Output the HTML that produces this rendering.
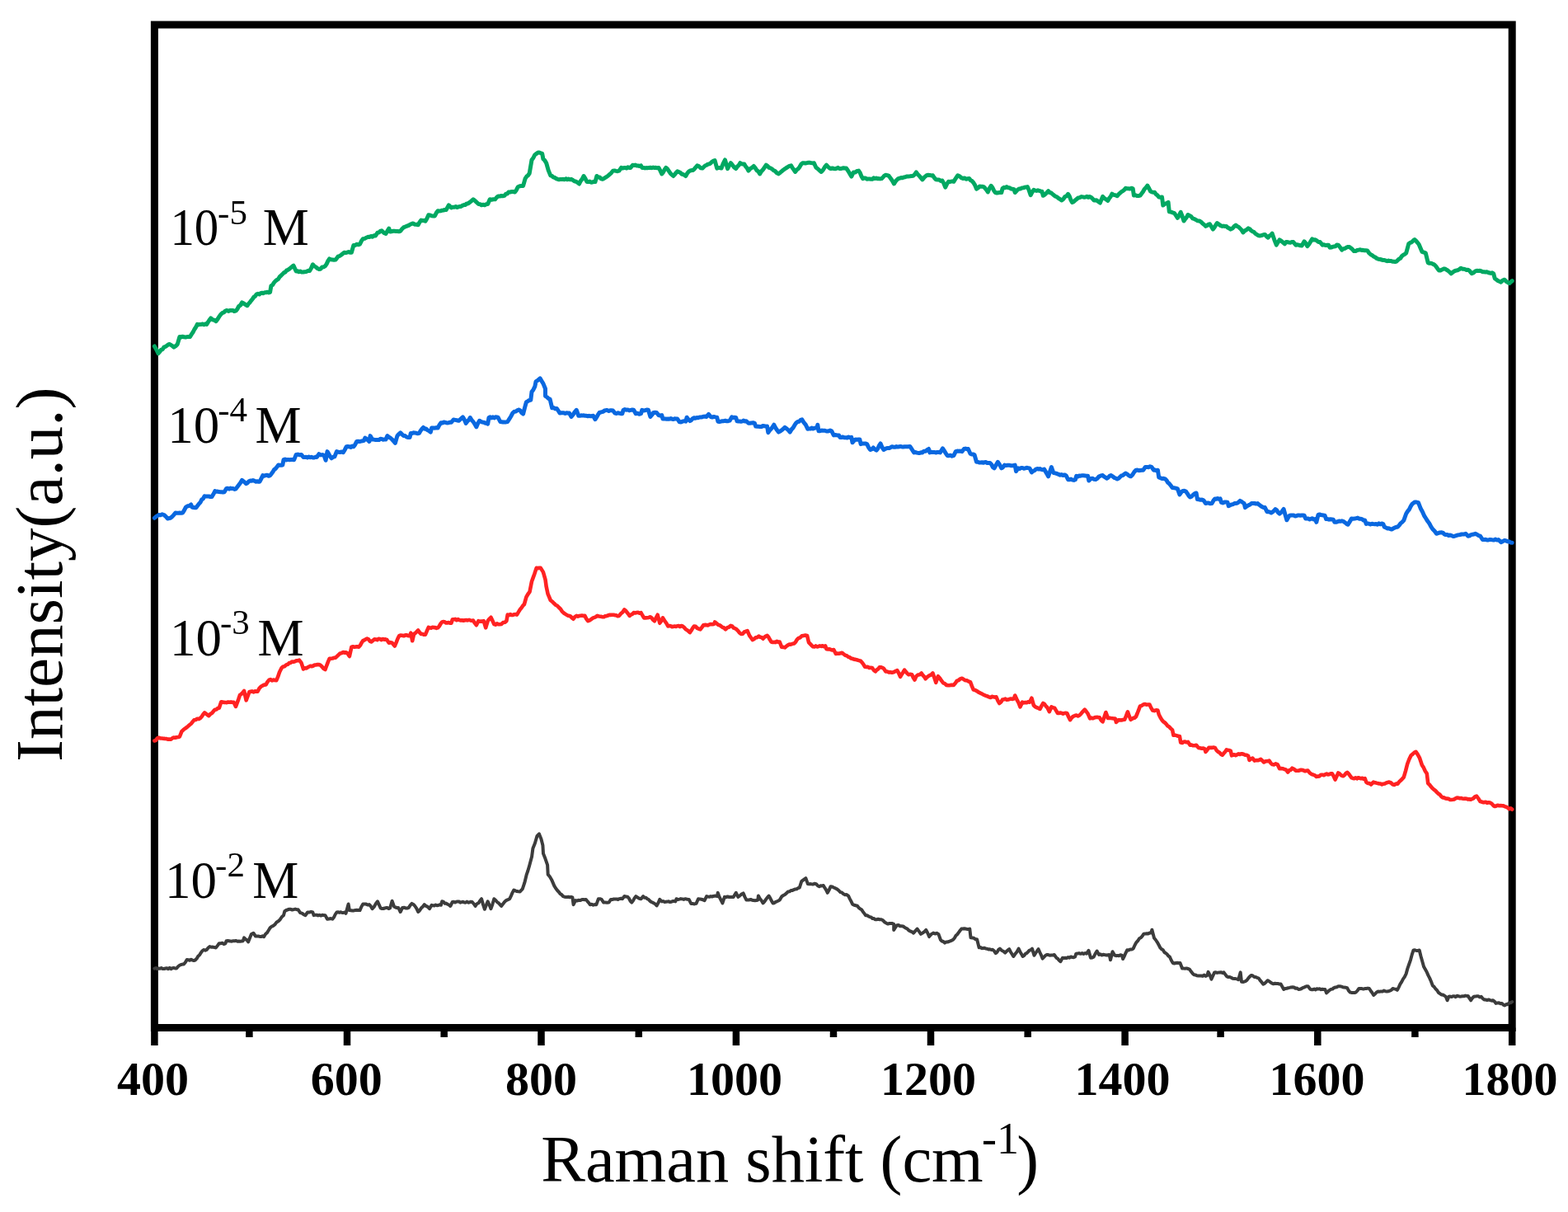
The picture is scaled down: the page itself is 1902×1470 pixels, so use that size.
<!DOCTYPE html>
<html><head><meta charset="utf-8"><title>Raman spectra</title>
<style>html,body{margin:0;padding:0;background:#fff;}body{width:1902px;height:1470px;overflow:hidden;}svg{display:block;}</style>
</head><body>
<svg width="1902" height="1470" viewBox="0 0 1902 1470">
<rect width="100%" height="100%" fill="#fff"/>
<path d="M187.4,1246.5V1268M302.4,1246.5V1258M421.0,1246.5V1268M538.7,1246.5V1258M656.5,1246.5V1268M774.8,1246.5V1258M892.9,1246.5V1268M1011.0,1246.5V1258M1129.0,1246.5V1268M1246.7,1246.5V1258M1364.6,1246.5V1268M1480.6,1246.5V1258M1598.3,1246.5V1268M1716.4,1246.5V1258M1834.2,1246.5V1268" stroke="#000" stroke-width="8.5" fill="none"/>
<rect x="187.4" y="30.0" width="1646.8" height="1216.5" fill="none" stroke="#000" stroke-width="9"/>
<g fill="none" stroke-linejoin="round" stroke-linecap="round">
<polyline points="187.4,1174.6 189.1,1174.1 190.7,1175.0 192.4,1174.6 194.1,1174.8 195.7,1174.0 197.4,1175.1 199.1,1175.0 200.8,1174.5 202.4,1174.2 204.1,1175.2 205.8,1173.9 207.4,1175.2 209.1,1174.2 210.8,1173.9 212.4,1174.5 214.1,1174.6 216.0,1172.3 217.9,1170.8 219.6,1170.0 221.2,1169.6 222.9,1169.5 224.8,1167.2 226.7,1163.9 228.4,1164.2 230.1,1164.8 231.8,1163.7 233.4,1164.6 235.1,1165.0 236.8,1164.5 238.6,1162.7 240.3,1159.7 242.1,1158.2 243.8,1155.4 245.6,1153.1 247.3,1152.0 249.0,1152.7 250.7,1151.9 252.6,1149.5 254.4,1148.1 256.3,1148.7 258.2,1148.6 260.1,1149.1 262.0,1149.4 263.9,1146.9 265.8,1144.3 267.7,1144.3 269.6,1143.7 271.5,1145.0 273.4,1144.3 274.6,1141.2 276.3,1141.1 278.0,1141.2 279.7,1141.6 281.3,1141.7 283.0,1141.2 284.7,1141.3 286.4,1140.9 288.1,1141.8 289.8,1141.6 291.4,1141.7 293.1,1141.6 294.8,1141.2 296.1,1137.4 297.8,1139.2 299.4,1140.1 301.1,1142.4 303.0,1137.8 304.9,1133.0 307.4,1131.7 310.0,1135.5 311.7,1135.6 313.4,1135.5 315.1,1135.9 316.7,1136.1 318.4,1135.3 320.1,1136.1 322.0,1133.0 323.9,1131.3 325.7,1128.5 327.6,1125.4 329.5,1123.8 331.4,1122.9 333.5,1121.2 335.6,1118.4 337.7,1117.2 339.8,1115.2 341.9,1112.0 344.0,1110.2 345.3,1105.2 347.2,1104.0 349.1,1103.3 350.9,1102.8 352.7,1102.8 354.5,1103.6 356.3,1103.1 358.1,1102.6 359.9,1103.2 361.7,1103.3 364.2,1107.1 366.3,1107.6 368.4,1109.2 370.5,1110.2 373.1,1106.5 375.2,1106.6 377.3,1105.8 379.4,1106.5 380.6,1110.2 382.3,1109.7 384.1,1109.7 385.8,1110.4 387.6,1109.8 389.3,1110.6 391.0,1109.8 392.8,1110.1 394.5,1110.2 397.0,1114.7 399.1,1114.4 401.2,1114.1 403.3,1114.7 405.0,1112.6 406.7,1109.0 408.4,1106.5 410.1,1106.2 411.8,1106.8 413.4,1106.2 415.1,1107.0 416.8,1106.9 418.5,1106.5 419.5,1107.9 422.6,1096.5 423.9,1104.1 425.7,1104.2 427.5,1104.6 429.3,1104.4 431.1,1103.9 432.9,1103.7 434.7,1104.0 436.5,1104.1 438.4,1099.7 440.3,1096.5 442.2,1096.4 444.1,1096.6 446.0,1097.5 447.9,1097.1 449.8,1099.2 451.6,1102.2 453.7,1099.9 455.9,1096.0 458.0,1093.3 459.9,1097.6 461.7,1101.5 463.3,1102.1 465.0,1102.0 466.6,1101.5 468.2,1101.1 469.8,1100.9 471.5,1102.1 473.1,1101.5 475.6,1092.7 478.1,1099.7 479.8,1100.5 481.5,1101.0 483.2,1100.9 485.7,1106.0 488.2,1100.9 490.1,1100.7 492.0,1101.4 493.9,1101.5 495.8,1100.9 497.7,1097.9 499.6,1095.9 501.5,1096.9 503.4,1099.0 505.3,1101.9 507.2,1106.0 509.1,1104.2 511.0,1101.3 512.8,1099.7 514.7,1097.1 516.8,1098.9 518.9,1099.9 521.0,1102.2 523.6,1097.8 525.2,1098.3 526.8,1098.4 528.4,1097.5 530.1,1098.3 531.7,1098.0 533.3,1097.3 534.9,1097.8 536.2,1093.3 537.9,1093.6 539.6,1095.9 541.2,1095.6 542.9,1096.7 544.6,1097.5 546.3,1099.0 548.8,1094.0 550.4,1093.8 552.0,1094.6 553.6,1093.7 555.2,1093.4 556.8,1093.4 558.4,1094.7 560.0,1094.1 561.6,1093.7 563.2,1094.6 564.8,1094.7 566.4,1093.6 568.0,1094.7 569.6,1094.3 571.2,1093.7 572.8,1094.0 574.7,1096.2 576.6,1099.0 578.5,1096.2 580.4,1095.3 582.2,1092.6 584.1,1090.2 586.0,1097.1 587.9,1102.8 589.8,1097.8 591.7,1093.3 593.6,1097.5 595.5,1102.2 597.4,1096.8 599.3,1090.2 601.1,1091.7 602.8,1093.8 604.6,1095.1 606.3,1096.9 608.1,1099.0 610.0,1096.6 611.9,1094.0 614.0,1092.1 616.1,1091.2 618.2,1090.2 619.9,1086.6 621.6,1082.6 623.3,1079.5 625.2,1080.4 627.0,1081.1 628.9,1081.3 630.8,1081.4 633.8,1078.2 636.3,1070.7 638.8,1060.6 640.4,1056.0 642.0,1050.5 645.1,1039.1 646.4,1029.0 648.9,1022.7 651.5,1013.9 654.0,1011.4 656.5,1017.7 658.4,1025.2 659.0,1035.3 661.5,1041.6 664.1,1049.2 664.7,1060.6 666.9,1063.2 669.1,1066.9 672.3,1074.4 674.2,1077.5 676.1,1080.0 678.0,1082.0 679.7,1084.3 681.3,1085.1 683.0,1087.1 684.6,1087.7 686.3,1087.9 687.9,1087.9 689.5,1087.7 691.1,1088.3 692.8,1087.8 694.4,1088.3 695.6,1097.2 698.1,1092.1 699.9,1092.6 701.7,1091.8 703.5,1092.1 705.4,1091.3 707.2,1090.9 709.0,1091.3 710.8,1090.9 712.5,1093.1 714.1,1094.9 715.8,1097.2 717.7,1096.7 719.6,1097.7 721.5,1097.1 723.4,1097.2 725.9,1090.2 727.8,1090.2 729.7,1090.9 732.2,1094.6 734.3,1094.6 736.4,1094.8 738.5,1094.6 741.0,1090.9 742.7,1091.1 744.5,1090.4 746.2,1090.6 748.0,1090.4 749.7,1091.0 751.4,1090.1 753.2,1089.7 754.9,1090.2 757.4,1087.1 759.3,1087.4 761.2,1087.7 762.9,1089.5 764.6,1092.8 766.3,1094.6 768.0,1092.4 769.6,1089.4 771.3,1087.1 773.4,1088.5 775.5,1089.7 777.6,1090.2 780.2,1087.1 781.9,1088.8 783.5,1088.7 785.2,1090.2 786.8,1091.0 788.5,1092.9 790.1,1094.0 791.7,1094.7 793.3,1095.6 795.0,1096.6 796.6,1098.4 798.5,1095.1 800.3,1090.9 802.9,1093.4 804.5,1093.1 806.2,1094.0 807.8,1093.8 809.5,1093.6 811.1,1093.3 812.7,1094.1 814.4,1093.8 816.0,1092.9 817.7,1092.9 819.3,1093.4 820.5,1090.2 822.3,1091.0 824.1,1090.6 825.8,1090.1 827.6,1090.4 829.4,1090.9 831.5,1090.2 833.6,1090.8 835.7,1090.9 838.2,1095.9 840.3,1096.1 842.4,1096.4 844.5,1095.9 847.0,1090.2 848.9,1090.4 850.8,1090.8 852.7,1091.3 854.6,1092.1 857.1,1087.1 858.7,1087.5 860.4,1087.8 862.0,1087.1 863.6,1087.5 865.2,1087.0 866.9,1086.6 868.5,1086.7 870.1,1087.2 870.7,1082.8 872.6,1087.9 874.5,1091.7 876.4,1095.4 878.9,1087.9 880.7,1088.3 882.5,1087.4 884.3,1088.0 886.1,1087.9 887.9,1087.9 889.7,1087.9 892.8,1082.8 895.3,1087.9 897.4,1086.3 899.5,1084.6 901.6,1083.4 903.5,1087.9 905.4,1091.6 907.1,1091.6 908.9,1091.4 910.6,1090.9 912.3,1091.7 914.1,1092.1 915.8,1092.3 917.6,1092.1 919.3,1091.6 919.9,1086.6 921.8,1089.9 923.7,1092.2 925.6,1095.4 927.4,1093.4 929.1,1090.8 930.9,1088.6 932.6,1086.6 934.3,1089.4 935.9,1092.6 937.6,1095.4 939.2,1095.2 940.9,1093.9 942.5,1093.3 944.2,1092.5 945.8,1091.6 948.3,1087.2 950.2,1086.0 952.1,1085.0 954.0,1083.4 955.9,1081.5 957.7,1081.3 959.4,1080.0 961.2,1079.9 962.9,1079.1 964.7,1078.4 966.4,1078.2 968.1,1077.1 969.8,1076.5 972.3,1068.9 974.0,1067.6 975.7,1066.3 977.4,1065.1 979.9,1072.1 981.6,1072.3 983.3,1072.1 985.0,1072.4 986.6,1072.4 988.3,1071.7 990.0,1072.1 991.9,1074.2 993.8,1075.2 995.5,1074.2 997.1,1074.4 998.8,1074.0 1000.5,1076.9 1002.1,1079.4 1003.8,1082.8 1005.7,1079.3 1007.6,1075.2 1009.5,1075.5 1011.4,1076.5 1013.5,1077.4 1015.6,1078.6 1017.7,1080.3 1019.4,1082.1 1021.1,1082.4 1022.8,1084.1 1024.9,1085.2 1027.0,1085.1 1029.1,1086.6 1030.8,1090.1 1032.4,1093.2 1034.1,1096.7 1036.1,1097.8 1038.0,1098.3 1040.0,1098.8 1041.7,1100.9 1043.3,1102.3 1045.0,1103.2 1046.7,1105.7 1048.4,1107.9 1050.1,1110.2 1051.8,1110.3 1053.4,1111.3 1055.1,1112.1 1056.7,1112.5 1058.3,1114.0 1059.9,1113.9 1061.5,1115.2 1063.4,1115.2 1065.2,1114.8 1067.1,1115.3 1069.0,1115.2 1071.1,1116.3 1073.2,1118.5 1075.3,1119.7 1077.1,1120.6 1078.9,1120.0 1080.6,1119.9 1082.4,1120.1 1084.2,1120.9 1084.2,1127.9 1086.1,1125.0 1088.0,1122.2 1089.9,1122.0 1091.8,1123.2 1093.6,1123.2 1095.5,1123.4 1097.2,1124.8 1098.9,1125.7 1100.6,1126.6 1102.5,1128.5 1104.3,1129.5 1106.2,1130.1 1108.1,1131.6 1110.3,1129.2 1112.6,1126.6 1114.8,1129.6 1117.0,1132.9 1119.1,1131.6 1121.2,1130.1 1123.3,1127.9 1125.2,1131.5 1127.1,1136.1 1128.8,1134.0 1130.4,1132.6 1132.1,1131.6 1134.2,1132.5 1136.3,1131.8 1138.4,1132.9 1140.9,1139.8 1142.6,1141.5 1144.3,1142.0 1146.0,1143.6 1147.7,1142.4 1149.4,1142.5 1151.0,1142.0 1152.7,1141.3 1154.4,1140.6 1156.1,1139.8 1157.8,1137.8 1159.5,1134.8 1161.2,1133.3 1162.8,1131.1 1164.5,1128.8 1166.2,1126.6 1167.9,1126.4 1169.6,1126.2 1171.2,1126.5 1172.9,1126.9 1174.6,1126.9 1176.3,1126.6 1177.5,1137.3 1179.4,1137.4 1181.3,1137.8 1183.2,1139.2 1185.1,1139.2 1187.6,1149.3 1189.2,1148.9 1190.9,1150.2 1192.5,1149.9 1194.2,1149.7 1195.8,1150.5 1197.4,1150.7 1199.1,1151.6 1200.7,1151.3 1202.4,1152.0 1204.0,1151.8 1205.9,1153.3 1207.8,1156.2 1209.5,1154.7 1211.2,1151.9 1212.9,1150.6 1215.0,1152.7 1217.1,1153.7 1219.2,1155.6 1220.9,1153.8 1222.5,1152.4 1224.2,1151.2 1225.9,1154.5 1227.6,1157.2 1229.3,1160.0 1231.4,1157.1 1233.5,1154.4 1235.6,1150.6 1237.3,1154.2 1238.9,1156.9 1240.6,1160.0 1242.2,1159.1 1243.9,1156.8 1245.5,1156.0 1247.1,1154.4 1248.7,1152.6 1250.4,1152.2 1252.0,1150.6 1254.5,1158.8 1256.2,1156.0 1257.9,1153.5 1259.6,1151.2 1261.3,1155.0 1262.9,1158.3 1264.6,1162.6 1266.3,1160.9 1268.0,1159.0 1269.7,1158.1 1271.5,1158.1 1273.3,1158.7 1275.2,1158.5 1277.0,1158.6 1278.8,1158.0 1281.4,1161.7 1283.1,1162.7 1284.7,1164.8 1286.4,1166.2 1288.9,1161.7 1290.6,1162.0 1292.3,1161.8 1294.0,1161.9 1295.7,1161.0 1297.3,1161.7 1299.0,1160.4 1300.7,1161.0 1302.4,1161.2 1304.1,1160.5 1305.3,1156.7 1307.1,1156.6 1308.9,1156.1 1310.7,1156.8 1312.6,1156.1 1314.4,1156.9 1316.2,1156.1 1318.0,1156.7 1320.5,1152.9 1323.0,1161.7 1324.9,1161.6 1326.8,1160.5 1328.7,1156.5 1330.6,1153.5 1333.1,1158.0 1334.9,1157.3 1336.7,1158.5 1338.5,1157.7 1340.3,1158.1 1342.1,1158.5 1343.9,1158.2 1345.7,1158.0 1347.0,1164.3 1349.5,1154.2 1352.0,1158.6 1353.8,1159.2 1355.6,1158.9 1357.3,1159.3 1359.1,1158.2 1360.9,1158.6 1362.1,1163.0 1363.8,1159.8 1365.5,1155.8 1367.2,1152.3 1369.1,1152.4 1371.0,1151.5 1372.8,1151.4 1374.7,1150.4 1376.6,1146.2 1378.5,1142.8 1380.3,1141.0 1382.1,1138.2 1383.8,1137.3 1385.6,1135.4 1387.4,1132.7 1389.2,1132.6 1390.9,1132.3 1392.7,1132.4 1394.4,1131.6 1396.2,1131.5 1397.4,1127.7 1400.0,1137.8 1401.9,1140.0 1403.8,1142.8 1405.7,1146.3 1407.5,1149.7 1409.1,1151.3 1410.8,1152.3 1412.4,1155.0 1414.0,1156.0 1415.6,1157.3 1417.3,1159.5 1418.9,1160.5 1420.8,1164.8 1422.7,1168.0 1424.5,1168.5 1426.2,1168.0 1428.0,1167.8 1429.7,1168.0 1431.5,1168.0 1434.0,1174.4 1435.8,1174.6 1437.6,1174.7 1439.3,1174.4 1441.1,1175.0 1442.9,1175.6 1444.8,1178.3 1446.7,1180.7 1448.4,1182.2 1450.0,1182.4 1451.7,1183.2 1453.5,1183.5 1455.3,1183.6 1457.1,1183.5 1458.9,1183.9 1460.7,1182.6 1462.5,1183.9 1464.3,1183.2 1465.6,1178.8 1467.5,1182.5 1469.4,1187.6 1471.3,1183.5 1473.2,1179.4 1474.8,1179.3 1476.4,1179.9 1478.0,1179.6 1479.7,1179.5 1481.3,1179.2 1482.9,1180.1 1484.5,1179.4 1486.4,1182.0 1488.3,1184.4 1490.0,1185.1 1491.8,1185.0 1493.5,1185.8 1495.2,1186.8 1497.0,1187.0 1498.7,1187.1 1500.5,1187.4 1502.2,1188.2 1504.7,1179.4 1506.0,1190.8 1508.3,1191.0 1510.7,1190.1 1512.5,1188.8 1514.3,1186.3 1516.1,1184.3 1517.9,1182.9 1519.7,1183.5 1521.5,1185.0 1523.2,1185.0 1525.0,1185.8 1526.8,1186.5 1528.6,1189.2 1530.4,1191.2 1532.2,1193.6 1534.0,1192.8 1535.7,1191.3 1537.5,1189.2 1539.3,1190.0 1541.1,1191.4 1542.9,1192.7 1544.7,1193.3 1546.5,1192.7 1548.2,1193.0 1550.0,1192.9 1551.8,1193.6 1553.6,1193.6 1555.4,1196.8 1557.2,1199.9 1559.0,1199.0 1560.8,1198.7 1562.6,1198.2 1564.3,1197.9 1566.1,1197.4 1567.9,1197.2 1569.7,1197.4 1571.5,1198.8 1573.3,1198.6 1575.1,1199.9 1576.8,1199.7 1578.4,1199.3 1580.1,1198.1 1581.7,1197.6 1583.4,1196.8 1585.0,1196.2 1586.7,1196.3 1589.4,1199.9 1591.0,1200.2 1592.7,1200.2 1594.3,1199.5 1595.9,1200.4 1597.5,1199.2 1599.2,1199.6 1600.8,1199.3 1602.4,1200.2 1604.0,1199.7 1605.7,1199.9 1607.3,1199.9 1609.0,1204.4 1610.8,1202.7 1612.6,1201.1 1614.4,1199.9 1616.2,1199.6 1618.0,1198.1 1619.8,1197.5 1621.5,1197.2 1623.3,1196.2 1625.1,1196.3 1626.9,1196.5 1628.7,1197.2 1630.5,1197.6 1632.3,1197.8 1634.1,1198.1 1635.8,1201.4 1637.6,1203.5 1639.4,1203.9 1641.2,1204.0 1643.0,1204.0 1644.8,1203.5 1646.6,1201.5 1648.4,1199.0 1650.2,1199.0 1652.0,1199.1 1653.8,1199.6 1655.5,1199.1 1657.3,1199.0 1659.1,1198.6 1660.9,1199.0 1662.7,1201.7 1664.4,1204.0 1666.2,1207.0 1668.0,1205.5 1669.8,1203.5 1671.6,1202.6 1673.4,1202.7 1675.2,1202.4 1677.0,1202.6 1678.8,1201.5 1680.5,1202.3 1682.3,1202.5 1684.1,1202.3 1685.9,1201.7 1687.7,1200.8 1689.5,1199.0 1691.3,1199.4 1693.1,1199.7 1694.9,1200.8 1696.7,1197.3 1698.4,1193.7 1700.2,1190.9 1702.0,1187.3 1703.8,1184.8 1705.6,1181.1 1707.4,1174.6 1709.2,1169.5 1711.0,1164.3 1712.7,1157.9 1714.5,1152.5 1716.3,1152.3 1718.1,1153.0 1719.9,1152.9 1721.7,1152.5 1723.5,1159.7 1725.2,1165.8 1727.0,1172.2 1728.8,1175.6 1730.6,1178.7 1732.4,1182.9 1734.2,1186.4 1736.0,1190.5 1737.8,1195.4 1739.6,1196.8 1741.4,1199.3 1743.1,1201.0 1744.9,1203.8 1746.7,1205.2 1748.5,1206.5 1750.2,1206.6 1752.0,1207.5 1753.8,1208.8 1755.6,1213.3 1757.4,1208.8 1759.1,1208.5 1760.7,1209.1 1762.4,1208.3 1764.1,1208.3 1765.7,1209.2 1767.4,1207.8 1769.1,1208.2 1770.7,1208.7 1772.4,1208.5 1774.0,1208.2 1775.7,1208.3 1777.4,1207.6 1779.0,1207.9 1780.7,1207.9 1782.5,1210.9 1784.2,1213.3 1786.0,1210.4 1787.8,1208.8 1789.6,1208.6 1791.4,1208.3 1793.1,1208.2 1794.9,1209.5 1796.7,1208.8 1798.5,1211.0 1800.3,1212.4 1802.1,1212.5 1803.9,1213.1 1805.7,1212.4 1807.5,1213.1 1809.3,1213.7 1811.1,1213.3 1812.8,1214.6 1814.6,1216.9 1816.4,1216.4 1818.2,1216.3 1820.0,1217.3 1821.8,1216.9 1823.5,1218.6 1825.3,1219.5 1827.1,1218.1 1828.9,1218.2 1830.6,1216.2 1832.4,1216.2 1834.2,1215.1" stroke="#3c3c3c" stroke-width="4.0"/>
<polyline points="187.4,898.5 189.1,897.9 190.9,895.3 192.6,894.7 194.4,895.4 196.2,895.5 198.0,895.7 199.8,895.9 201.6,896.0 203.4,896.6 205.2,896.6 207.0,896.8 208.8,895.6 210.6,894.6 212.5,894.8 214.3,894.2 216.1,894.0 217.9,893.5 220.4,887.2 222.3,885.3 224.2,883.8 226.1,882.5 228.0,880.9 229.9,879.2 231.8,877.7 233.6,875.5 235.5,873.3 237.4,873.0 239.3,871.8 241.2,872.1 243.1,870.8 244.8,869.0 246.4,866.5 248.1,864.4 249.8,865.7 251.5,866.9 253.2,868.2 255.1,866.1 257.0,865.0 258.9,862.7 260.8,860.7 262.5,860.4 264.1,859.0 265.8,858.8 268.3,851.2 270.0,851.5 271.7,851.9 273.4,852.0 275.1,852.1 276.7,851.5 278.4,851.8 280.1,851.4 281.8,851.7 283.5,851.8 286.0,856.9 287.7,852.4 289.3,848.1 291.0,843.0 292.7,841.9 294.4,840.0 296.1,838.0 298.6,849.3 300.5,844.5 302.4,839.2 304.1,838.7 305.8,838.4 307.4,839.4 309.1,838.4 310.8,838.6 312.5,838.6 314.4,835.1 316.3,832.9 318.4,831.6 320.5,830.6 322.6,830.4 324.5,826.9 326.4,824.7 328.2,824.1 329.9,825.4 331.7,824.6 333.4,825.0 335.2,825.3 337.1,820.9 339.0,815.2 341.5,810.2 343.4,808.5 345.3,808.2 347.2,806.4 349.1,805.8 350.8,804.1 352.4,804.0 354.1,802.6 355.9,802.8 357.7,802.3 359.4,801.4 361.2,801.3 363.0,800.7 365.5,803.9 368.0,811.5 369.8,810.2 371.5,810.5 373.3,809.3 375.0,808.5 376.8,807.7 378.4,808.2 380.1,807.5 381.7,806.5 383.3,806.5 384.9,806.1 386.6,806.0 388.2,806.4 390.3,808.3 392.4,810.8 394.5,812.1 396.2,807.3 397.9,802.9 399.6,798.8 401.5,798.7 403.4,798.5 405.2,797.8 407.1,797.6 410.0,794.8 412.1,792.8 414.2,792.1 416.3,791.0 418.0,791.7 419.7,791.3 421.4,792.3 423.9,796.1 426.4,784.7 428.2,784.3 429.9,784.7 431.7,784.4 433.4,784.3 435.2,784.7 436.9,782.8 438.6,779.6 440.3,777.2 442.0,776.4 443.6,775.4 445.3,774.6 447.0,775.4 448.7,777.6 450.4,778.4 452.3,776.9 454.2,775.3 455.9,775.5 457.6,776.1 459.2,774.8 460.9,775.0 462.6,776.1 464.3,775.0 465.9,775.6 467.6,775.4 469.3,775.9 471.8,779.7 473.7,779.1 475.6,779.7 478.8,783.5 480.7,779.1 482.5,774.5 484.4,770.9 486.2,770.5 488.0,770.7 489.8,771.3 491.7,770.4 493.5,770.3 495.3,771.1 497.1,770.9 498.3,767.7 500.2,777.2 502.1,769.0 503.8,767.8 505.5,766.2 507.2,764.5 509.0,767.1 510.9,769.0 512.6,769.0 514.3,769.8 516.0,769.6 517.9,765.2 519.8,760.8 521.4,761.5 523.0,761.6 524.6,760.8 526.3,761.1 527.9,761.1 529.5,761.9 531.1,761.4 532.8,759.5 534.5,756.5 536.2,754.4 537.8,754.1 539.4,754.2 541.0,755.5 542.7,755.4 544.3,755.0 545.9,755.8 547.5,755.7 548.8,751.3 550.5,751.3 552.2,750.9 553.8,752.2 555.5,751.1 557.2,752.0 558.9,752.4 560.6,752.2 562.2,752.7 563.9,752.2 565.6,752.1 567.3,752.4 569.0,751.9 570.6,752.4 572.3,752.8 574.0,752.6 575.9,755.7 577.8,758.2 580.3,753.2 581.9,753.8 583.5,753.5 585.1,753.6 586.7,753.2 589.2,761.4 591.7,753.2 593.6,750.6 595.5,748.8 597.4,752.8 599.3,757.0 601.1,757.7 602.8,756.3 604.6,757.3 606.3,757.2 608.1,757.0 610.2,755.1 612.3,754.8 614.4,753.2 615.7,745.6 617.3,746.2 618.9,745.0 620.5,746.0 622.2,745.9 623.8,745.2 625.4,745.1 627.0,745.6 628.9,742.4 630.8,739.3 632.5,737.3 634.2,734.7 635.9,733.0 638.4,724.2 640.5,720.5 642.5,717.9 645.0,705.3 646.6,700.9 648.2,696.5 650.7,688.9 652.4,689.1 654.1,688.9 655.8,688.9 658.9,693.9 661.5,702.8 662.7,711.6 664.6,720.4 667.8,728.0 669.9,729.7 672.0,731.8 674.1,733.7 676.0,734.7 677.9,736.8 680.0,738.7 682.1,741.9 684.2,743.8 686.3,745.1 688.4,746.4 690.5,746.9 692.2,747.7 693.8,749.4 695.5,750.7 697.4,748.1 699.3,746.9 701.0,747.6 702.7,747.0 704.3,746.8 706.0,746.6 707.7,746.9 709.4,746.9 711.3,750.6 713.2,753.2 715.3,752.4 717.4,750.9 719.5,749.4 721.2,748.8 722.8,748.2 724.5,746.9 726.6,747.5 728.8,747.8 730.9,748.2 732.5,748.3 734.1,747.2 735.7,747.1 737.4,746.5 739.0,745.9 740.6,745.9 742.2,745.7 744.0,745.7 745.7,746.1 747.5,746.3 749.2,747.2 751.0,746.9 753.1,744.3 755.3,742.5 757.4,739.4 759.5,741.3 761.6,744.0 763.7,746.9 765.4,745.5 767.0,744.8 768.7,743.1 770.5,743.5 772.2,743.0 774.0,742.9 775.7,743.7 777.5,743.1 779.4,746.5 781.3,749.4 783.2,749.4 785.1,749.3 787.0,748.9 788.9,748.2 790.6,749.6 792.2,751.8 793.9,753.2 795.8,749.3 797.7,745.7 800.3,755.8 802.1,753.2 804.0,749.4 806.1,752.7 808.2,755.7 810.3,759.5 811.9,759.0 813.5,759.3 815.1,760.1 816.7,759.9 818.3,759.6 820.0,760.0 821.6,759.2 823.2,759.0 824.8,760.1 826.4,759.0 828.0,759.5 829.9,761.1 831.8,763.3 833.5,764.2 835.1,765.5 836.8,767.1 838.5,764.7 840.2,761.9 841.9,759.5 843.8,759.8 845.7,761.9 847.6,762.7 849.5,763.3 851.4,760.8 853.2,758.3 855.0,757.9 856.8,758.1 858.6,758.4 860.5,757.5 862.3,757.1 864.1,757.3 865.9,757.0 867.1,754.5 869.0,755.8 870.9,757.7 872.8,758.2 874.7,759.5 876.5,760.8 878.3,761.5 880.1,763.3 882.2,761.3 884.3,760.6 886.4,758.9 888.1,759.4 889.8,761.5 891.5,762.1 893.4,763.3 895.2,765.1 897.1,767.5 899.0,769.0 900.9,768.7 902.8,766.5 904.7,765.8 906.6,765.2 909.1,770.9 911.0,773.5 912.9,776.0 914.8,774.9 916.7,773.3 918.6,773.1 920.5,771.5 922.2,772.8 923.8,773.1 925.5,774.7 927.2,772.9 928.9,771.6 930.6,770.9 932.3,772.8 933.9,775.8 935.6,778.5 937.3,779.0 939.0,778.8 940.7,779.1 942.3,777.9 944.0,778.7 945.7,778.5 948.2,784.8 950.1,784.9 952.0,785.4 953.7,784.0 955.4,782.7 957.1,781.6 959.2,781.6 961.3,780.8 963.4,780.4 965.1,778.7 966.7,775.8 968.4,774.1 970.5,773.3 972.6,771.3 974.7,770.9 976.9,770.5 979.1,770.9 981.0,779.1 982.7,780.9 984.4,782.7 986.1,784.2 987.8,784.4 989.5,783.4 991.1,784.4 992.8,784.0 994.5,783.4 996.2,783.9 997.8,783.2 999.5,784.2 1001.2,783.5 1002.5,787.3 1004.3,787.4 1006.0,787.2 1007.8,788.0 1009.5,788.4 1011.3,788.0 1013.9,793.0 1015.8,792.6 1017.6,792.7 1019.5,792.2 1021.4,791.7 1023.3,793.3 1025.2,794.8 1027.1,795.3 1029.0,796.8 1030.8,797.3 1032.5,798.6 1034.3,799.0 1036.0,799.7 1037.8,799.9 1039.9,800.5 1042.0,801.1 1044.1,801.8 1045.8,803.7 1047.5,806.0 1049.2,808.8 1051.0,809.1 1052.7,808.8 1054.5,810.0 1056.2,809.9 1058.0,810.0 1059.9,812.7 1061.8,814.4 1063.5,812.5 1065.1,811.5 1066.8,809.4 1068.5,809.2 1070.2,809.8 1071.9,810.7 1074.4,814.4 1076.3,814.5 1078.2,815.4 1080.1,815.3 1082.0,815.7 1084.1,815.3 1086.2,814.1 1088.3,813.2 1090.2,816.5 1092.1,820.8 1093.8,817.9 1095.4,815.5 1097.1,812.6 1098.8,814.7 1100.5,816.8 1102.2,818.2 1104.2,817.8 1106.3,818.3 1107.9,822.1 1109.5,824.6 1111.4,820.2 1113.5,818.5 1115.6,818.2 1117.7,816.4 1119.4,819.0 1121.0,820.6 1122.7,823.3 1124.5,821.3 1126.2,820.0 1128.0,819.0 1129.7,818.4 1131.5,816.4 1133.4,822.1 1135.3,827.8 1137.9,820.2 1140.0,822.5 1142.1,825.7 1144.2,828.4 1146.1,829.1 1147.9,830.9 1149.7,831.1 1151.5,831.2 1153.2,830.9 1155.0,830.9 1156.8,830.9 1158.7,828.8 1160.6,825.9 1162.7,825.1 1164.8,823.4 1166.9,822.7 1168.8,823.9 1170.7,825.2 1172.8,825.3 1174.9,826.5 1177.0,827.1 1178.9,832.1 1180.8,836.6 1182.9,837.1 1185.0,838.1 1187.1,839.7 1189.2,840.7 1191.3,841.6 1193.4,842.9 1195.5,843.7 1197.6,844.4 1199.7,845.4 1201.5,846.0 1203.2,844.8 1205.0,845.2 1206.7,845.6 1208.5,845.4 1210.4,849.8 1212.3,853.0 1214.2,851.5 1216.1,848.6 1217.8,848.2 1219.6,847.6 1221.3,848.8 1223.0,848.5 1224.8,847.8 1226.5,847.5 1228.3,847.9 1230.0,847.3 1231.2,843.5 1233.8,849.2 1235.7,852.7 1237.5,857.4 1240.1,851.7 1241.9,852.4 1243.6,851.9 1245.4,852.3 1247.1,851.3 1248.9,851.7 1251.4,846.7 1253.9,855.5 1255.8,857.2 1257.7,858.3 1259.6,858.9 1261.5,859.9 1263.4,856.1 1265.3,853.0 1267.0,854.0 1268.6,856.3 1270.3,858.0 1272.9,863.1 1275.4,857.4 1277.3,858.3 1279.2,858.7 1281.1,861.9 1283.0,865.0 1284.6,864.9 1286.2,864.5 1287.8,864.9 1289.5,865.7 1291.1,865.0 1292.7,864.9 1294.3,865.0 1296.2,869.5 1298.1,873.2 1300.0,870.5 1301.9,868.8 1303.8,868.0 1305.7,867.5 1307.6,868.5 1309.5,867.5 1311.6,865.3 1313.7,862.8 1315.8,860.6 1317.7,863.0 1319.6,865.6 1322.1,871.3 1323.8,870.6 1325.5,871.3 1327.3,870.5 1329.0,870.0 1331.4,869.9 1333.8,870.3 1335.7,873.5 1337.6,875.3 1339.5,869.7 1341.4,864.0 1343.9,870.9 1345.7,870.7 1347.4,871.0 1349.2,871.2 1350.9,871.5 1352.7,871.5 1354.0,876.0 1356.5,873.4 1358.4,873.2 1360.3,873.5 1362.2,873.0 1364.1,872.8 1366.0,868.4 1367.9,863.3 1369.8,868.7 1371.6,872.8 1373.2,872.0 1374.8,870.8 1376.4,870.6 1378.0,869.0 1379.7,865.0 1381.3,860.9 1383.0,856.4 1384.9,855.9 1386.8,854.5 1388.7,854.0 1390.6,854.7 1392.5,854.5 1394.4,854.5 1396.2,858.4 1398.1,861.5 1400.2,862.1 1402.3,861.4 1404.4,861.5 1405.7,866.5 1407.6,870.3 1409.5,873.4 1411.3,875.3 1413.0,876.5 1414.8,878.3 1416.5,880.6 1418.3,881.6 1420.2,883.6 1422.1,885.4 1423.4,891.7 1425.3,891.6 1427.2,892.1 1429.0,892.8 1430.9,893.0 1432.2,900.6 1434.0,901.0 1435.7,899.8 1437.5,899.5 1439.2,900.3 1441.0,899.9 1443.6,903.7 1445.5,903.5 1447.3,904.3 1449.2,904.2 1451.1,903.7 1453.7,906.9 1455.6,907.3 1457.5,907.7 1459.3,907.5 1461.2,908.1 1462.5,911.9 1464.4,909.5 1466.3,906.9 1468.2,906.9 1470.0,906.9 1471.9,906.5 1473.8,906.9 1475.7,910.1 1477.6,911.9 1479.3,912.8 1481.0,914.7 1482.7,915.7 1484.4,913.7 1486.0,912.0 1487.7,909.4 1489.4,909.8 1491.1,910.1 1492.8,910.7 1494.0,916.3 1495.6,915.8 1497.3,915.3 1498.9,916.1 1500.5,915.4 1502.1,914.4 1503.8,915.0 1505.4,914.4 1507.2,914.3 1508.9,915.0 1510.7,915.8 1512.4,915.8 1514.2,917.0 1515.5,922.0 1517.4,920.5 1519.3,919.5 1521.8,922.6 1523.7,922.1 1525.6,922.3 1527.5,921.7 1529.4,920.8 1531.3,922.6 1533.2,924.5 1535.3,923.3 1537.4,923.2 1539.5,922.6 1541.3,925.3 1543.2,927.1 1545.3,927.5 1547.5,926.4 1549.6,927.1 1552.1,932.1 1554.0,932.0 1555.9,932.2 1557.8,933.0 1559.7,933.4 1562.2,936.5 1563.9,934.3 1565.7,933.7 1567.4,931.7 1569.6,932.8 1571.8,934.6 1573.4,934.8 1575.1,934.8 1576.7,934.1 1578.3,933.9 1580.0,934.0 1581.6,934.6 1583.2,935.3 1584.9,934.8 1586.5,934.6 1588.7,937.4 1590.9,939.0 1592.9,939.6 1594.8,940.3 1596.8,942.0 1598.7,941.6 1600.5,941.4 1602.3,939.8 1604.2,939.7 1605.9,940.2 1607.5,939.3 1609.2,938.5 1610.9,939.5 1612.6,939.1 1614.2,938.3 1615.9,938.3 1617.8,941.5 1619.6,945.6 1621.4,941.6 1623.3,937.5 1625.3,938.8 1627.2,940.6 1629.2,941.2 1630.9,940.1 1632.6,938.0 1634.3,936.8 1636.0,938.6 1637.8,941.1 1639.5,943.4 1641.1,943.9 1642.7,944.2 1644.4,943.4 1646.0,944.4 1647.6,943.2 1649.2,943.7 1650.8,944.3 1652.5,943.7 1654.1,944.7 1655.7,944.2 1657.2,948.6 1659.1,950.0 1661.1,950.1 1663.0,951.5 1666.0,948.6 1667.7,949.3 1669.4,949.6 1671.2,950.1 1672.9,950.5 1674.6,950.5 1676.3,951.5 1678.1,950.7 1679.8,950.4 1681.6,949.4 1683.3,949.0 1685.1,948.6 1687.3,949.5 1689.5,951.5 1691.5,951.9 1693.4,950.6 1695.4,950.8 1697.2,948.2 1699.1,946.6 1701.0,944.6 1702.8,942.7 1705.0,935.1 1707.2,926.5 1709.4,920.7 1711.6,916.2 1713.6,914.6 1715.5,912.8 1717.5,911.8 1719.7,915.1 1721.9,919.1 1724.9,928.0 1726.9,931.1 1728.8,935.3 1730.8,938.3 1732.2,950.1 1734.0,951.7 1735.8,954.1 1737.5,956.1 1739.3,957.6 1741.1,958.9 1742.9,960.8 1744.8,962.7 1746.6,963.8 1748.4,966.2 1750.1,967.4 1751.8,967.4 1753.6,968.5 1755.3,968.6 1757.0,968.8 1758.7,969.9 1760.4,970.0 1762.2,969.8 1763.9,969.5 1765.6,968.4 1767.4,967.6 1769.1,967.7 1770.7,968.3 1772.3,968.0 1773.9,968.4 1775.5,968.7 1777.2,968.5 1778.8,968.7 1780.4,969.4 1782.0,969.3 1783.6,969.7 1785.2,969.2 1787.2,968.4 1789.1,966.4 1791.1,965.5 1793.3,968.5 1795.5,972.1 1797.2,972.5 1798.9,973.1 1800.6,973.1 1802.2,972.7 1803.9,973.8 1805.6,973.3 1807.3,973.6 1809.5,974.8 1811.7,977.3 1813.4,978.0 1815.1,977.5 1816.8,976.7 1818.6,977.2 1820.3,977.1 1822.0,977.3 1823.7,977.4 1825.5,978.3 1827.2,978.7 1829.0,979.7 1830.7,981.1 1832.5,980.4 1834.2,981.7" stroke="#ff2222" stroke-width="4.6"/>
<polyline points="187.4,628.3 189.1,626.7 190.9,625.6 192.6,624.5 194.7,624.7 196.8,623.8 198.9,624.5 201.1,626.4 203.3,629.0 206.5,628.3 208.6,626.9 210.7,624.6 212.8,622.0 214.6,622.2 216.3,622.2 218.1,622.0 219.8,622.2 221.6,622.0 223.5,618.9 225.4,615.1 227.5,613.8 229.6,613.5 231.7,611.9 233.0,615.1 234.7,615.6 236.3,615.8 238.0,615.7 239.7,613.2 241.4,611.0 243.1,609.3 244.7,605.9 246.4,604.8 248.1,601.8 249.9,602.1 251.7,602.1 253.4,602.0 255.2,602.5 257.0,602.5 258.9,599.3 260.8,595.5 262.4,596.2 264.0,596.1 265.6,596.6 267.3,596.8 268.9,596.7 270.5,597.1 272.1,596.8 274.6,592.4 276.2,592.2 277.9,593.1 279.5,592.1 281.1,592.6 282.7,592.5 284.4,593.4 286.0,593.0 287.9,590.5 289.8,588.0 291.7,585.5 293.6,582.3 295.3,583.8 296.9,585.0 298.6,586.7 300.3,585.6 302.0,583.7 303.7,582.9 305.3,583.2 306.9,582.6 308.5,583.2 310.2,584.2 311.8,583.8 313.4,584.2 315.0,584.2 316.9,580.5 318.8,576.6 320.6,577.2 322.3,576.5 324.1,576.2 325.8,577.3 327.6,576.6 329.3,574.6 331.0,572.3 332.6,569.6 334.3,568.4 336.0,566.3 337.7,564.0 339.4,564.3 341.1,564.3 342.8,564.0 344.0,557.7 345.8,557.0 347.6,557.9 349.4,557.4 351.3,557.8 353.1,557.5 354.9,557.5 356.7,557.7 359.2,551.4 361.3,551.1 363.4,551.8 365.5,551.4 368.0,554.5 369.6,554.6 371.3,554.2 372.9,554.9 374.6,554.1 376.2,554.8 377.8,554.3 379.5,555.0 381.1,555.0 382.8,554.3 384.4,554.5 386.9,550.7 389.0,551.9 391.1,551.6 393.2,552.6 395.1,558.3 397.0,547.6 398.7,550.4 400.4,553.5 402.1,555.8 404.0,554.4 405.9,553.9 408.4,547.6 410.4,548.3 412.4,548.6 414.3,548.0 416.3,548.8 418.2,545.7 420.1,541.8 421.9,541.6 423.6,541.7 425.4,542.4 427.1,541.1 428.9,541.8 430.8,539.2 432.7,535.5 434.5,535.2 436.2,535.6 438.0,535.1 439.7,534.8 441.5,534.3 442.8,531.1 444.5,532.3 446.2,533.7 447.9,535.5 449.1,528.6 451.6,533.0 453.2,533.1 454.9,533.4 456.5,533.6 458.2,533.6 459.8,533.6 461.4,532.3 463.1,532.5 464.7,533.2 466.4,532.9 468.0,533.0 469.9,528.6 471.8,530.2 473.7,531.2 475.6,533.0 477.5,535.2 479.4,537.4 481.9,528.6 483.8,526.5 485.7,524.8 487.6,526.7 489.5,528.6 491.4,528.6 493.3,530.1 495.2,530.5 497.1,530.5 498.3,525.4 500.0,525.6 501.7,524.8 503.4,525.1 505.0,525.3 506.7,525.8 508.4,525.4 510.1,522.5 511.8,520.3 513.5,518.5 515.2,520.2 516.8,520.0 518.5,521.6 520.4,522.6 522.3,524.2 523.6,519.1 525.5,518.9 527.4,519.2 529.2,518.7 531.1,519.1 533.0,515.4 534.9,512.8 536.7,513.0 538.5,512.0 540.3,512.4 542.1,512.9 543.9,512.8 545.7,512.2 547.5,512.2 550.1,509.0 552.2,509.4 554.3,509.8 556.4,510.3 558.1,508.8 559.7,507.4 561.4,505.9 563.3,509.1 565.2,513.4 566.9,511.0 568.6,509.4 570.3,506.5 572.1,509.6 574.0,511.5 575.9,514.4 577.8,517.9 579.7,513.6 581.6,510.3 583.3,511.2 585.0,512.0 586.7,512.2 588.4,513.2 590.0,512.9 591.7,514.1 593.0,506.5 594.6,505.8 596.2,506.9 597.8,505.9 599.5,507.0 601.1,505.8 602.7,506.0 604.3,506.5 606.8,511.5 608.6,511.7 610.4,512.1 612.1,511.9 613.9,511.9 615.7,511.5 617.8,508.2 619.9,504.7 622.0,500.8 623.9,499.2 625.8,499.0 627.7,497.6 629.6,497.0 631.3,498.3 632.9,500.8 634.6,502.1 636.5,494.7 638.4,487.6 640.2,486.6 642.0,485.5 643.8,485.3 645.0,475.2 646.9,472.7 648.8,468.9 650.1,462.6 651.8,461.7 653.4,460.3 655.1,458.8 657.0,462.2 658.9,465.1 661.5,471.5 661.5,480.3 663.4,481.5 665.2,483.4 667.1,484.1 669.7,494.8 671.6,494.4 673.4,495.8 675.3,495.4 677.2,498.2 679.1,501.1 680.7,500.7 682.4,500.7 684.0,500.8 685.6,501.4 687.2,500.8 688.9,501.0 690.5,501.1 693.0,505.5 695.1,502.9 697.2,499.6 699.3,497.3 701.8,504.3 703.4,504.3 705.0,503.8 706.6,504.1 708.2,503.8 709.8,504.3 711.5,504.3 713.1,504.8 714.7,504.3 716.3,504.8 717.9,504.6 719.5,504.3 722.0,508.7 723.7,505.9 725.4,502.9 727.1,500.5 729.2,499.9 731.3,499.3 733.4,498.0 735.1,497.6 736.8,497.6 738.5,498.5 740.1,497.7 741.8,497.7 743.5,498.0 746.0,501.1 747.8,501.5 749.5,500.8 751.3,501.2 753.0,501.7 754.8,501.7 756.1,497.3 757.9,496.6 759.7,497.2 761.5,496.9 763.3,497.9 765.1,497.4 766.9,497.0 768.7,497.3 771.2,501.7 773.3,501.2 775.4,502.3 777.5,501.7 778.8,497.3 780.7,497.9 782.6,497.7 784.5,497.0 786.4,497.3 788.9,505.5 790.8,503.2 792.7,500.5 794.6,500.2 796.5,500.5 799.0,503.6 800.9,504.2 802.8,503.6 804.0,508.0 805.6,508.1 807.2,508.0 808.8,508.3 810.4,508.1 812.0,508.2 813.7,507.6 815.3,508.2 816.9,508.6 818.5,507.8 820.1,508.1 821.7,508.0 824.2,511.8 826.1,511.9 828.0,511.2 829.9,510.7 831.8,511.2 833.1,506.2 835.0,508.8 836.8,510.6 838.5,509.7 840.2,507.7 841.9,506.8 843.6,507.2 845.3,506.5 846.9,506.7 848.6,506.0 850.3,506.1 852.0,505.7 853.6,505.2 855.3,505.1 857.0,505.5 859.6,502.4 862.1,505.5 864.0,506.1 865.9,505.4 867.8,505.9 869.7,506.2 870.9,511.2 872.7,511.5 874.5,511.1 876.2,510.7 878.0,510.7 879.8,510.2 881.5,510.8 883.3,510.7 885.1,510.2 887.7,505.8 889.4,506.6 891.0,506.3 892.7,506.4 894.0,510.8 895.6,511.0 897.2,511.1 898.8,511.3 900.5,510.9 902.1,510.1 903.7,511.0 905.3,510.8 907.9,513.3 909.8,513.3 911.6,512.9 913.5,512.7 915.4,513.3 916.7,517.1 918.4,517.3 920.2,517.2 921.9,517.6 923.7,517.5 925.4,516.5 927.1,516.7 928.9,517.2 930.6,517.1 931.8,524.7 933.5,522.1 935.3,520.2 937.0,518.1 938.8,515.2 940.7,518.8 942.5,521.5 944.4,524.1 946.3,523.1 948.2,521.8 950.1,520.2 952.0,518.4 954.1,519.8 956.2,521.6 958.3,524.1 960.2,520.8 962.1,518.7 964.0,515.4 965.9,512.7 967.6,511.5 969.3,511.2 971.1,509.4 972.8,508.9 975.0,512.4 977.3,515.2 979.8,520.3 981.4,519.9 983.0,520.1 984.6,519.0 986.3,520.0 987.9,519.3 989.5,518.8 991.1,519.0 991.8,515.2 993.0,522.8 994.8,522.7 996.5,522.1 998.3,522.3 1000.0,522.2 1001.8,522.7 1003.5,523.1 1005.3,522.7 1007.0,522.1 1008.8,522.8 1011.3,527.9 1013.4,527.5 1015.5,527.9 1017.6,527.9 1018.9,530.4 1020.6,530.6 1022.4,529.9 1024.1,530.7 1025.8,530.8 1027.6,531.0 1029.3,530.0 1031.1,530.8 1032.8,530.4 1034.0,536.7 1035.9,534.6 1037.8,532.9 1039.5,533.2 1041.2,533.0 1042.9,532.9 1044.1,538.6 1046.0,537.9 1047.9,538.1 1049.8,538.0 1051.7,538.6 1053.6,542.6 1055.5,545.5 1057.4,544.9 1059.3,543.0 1061.2,545.0 1063.1,546.2 1064.8,544.1 1066.4,540.5 1068.1,538.0 1070.0,542.4 1071.9,545.5 1073.6,544.6 1075.3,543.7 1077.0,543.4 1078.6,543.6 1080.3,542.7 1082.0,541.7 1083.8,542.2 1085.5,542.3 1087.3,541.6 1089.0,542.1 1090.8,541.7 1092.4,541.4 1094.1,542.0 1095.7,542.0 1097.4,541.7 1099.0,541.7 1101.4,541.8 1103.8,541.4 1105.5,543.9 1107.1,546.6 1108.8,548.9 1110.5,548.5 1112.2,549.1 1113.8,549.4 1115.5,549.5 1117.2,548.7 1118.9,548.9 1120.8,547.2 1122.7,547.3 1124.6,545.7 1126.5,544.5 1127.8,548.9 1129.6,548.3 1131.4,548.5 1133.2,548.4 1135.0,549.0 1136.8,548.5 1138.6,548.5 1140.4,548.9 1143.5,543.9 1145.4,546.7 1147.3,549.9 1149.2,552.7 1151.1,552.7 1153.0,552.2 1154.9,553.2 1156.8,552.7 1159.3,547.7 1161.2,547.0 1163.1,547.3 1165.0,547.1 1166.9,547.7 1169.4,544.5 1171.1,544.1 1172.7,544.7 1174.4,544.5 1177.0,550.2 1178.7,551.0 1180.3,550.9 1182.0,551.5 1184.5,560.3 1186.1,560.3 1187.8,561.0 1189.4,561.1 1191.1,560.8 1192.7,561.2 1194.3,560.8 1196.0,560.5 1197.6,561.6 1199.3,561.6 1200.9,561.5 1202.6,563.2 1204.3,566.5 1206.0,567.9 1208.2,564.0 1210.4,560.3 1212.6,563.7 1214.8,567.9 1216.7,566.6 1218.6,564.1 1220.4,564.6 1222.2,564.3 1224.0,564.2 1225.8,564.7 1227.6,564.7 1229.4,564.5 1231.2,564.1 1232.5,571.6 1235.0,567.9 1236.7,568.6 1238.5,567.6 1240.2,567.5 1242.0,568.2 1243.7,567.9 1245.4,567.3 1247.2,567.6 1248.9,567.9 1251.4,572.9 1253.1,571.4 1254.8,570.7 1256.5,569.1 1258.2,568.5 1259.9,569.0 1261.5,568.6 1263.2,569.4 1264.9,569.8 1266.6,569.1 1268.3,571.9 1269.9,574.7 1271.6,577.9 1273.5,572.3 1275.4,566.6 1277.9,573.5 1280.0,573.9 1282.1,574.5 1284.2,575.4 1286.0,576.2 1287.8,575.6 1289.5,576.6 1291.3,575.9 1293.1,576.7 1295.6,581.7 1297.4,581.8 1299.1,581.1 1300.9,582.1 1302.6,582.4 1304.4,581.7 1305.7,577.3 1307.4,578.0 1309.2,576.9 1310.9,577.2 1312.7,576.7 1314.4,576.7 1316.1,576.9 1317.9,577.2 1319.6,577.3 1320.8,583.0 1323.3,580.5 1325.2,580.2 1327.1,581.3 1329.0,581.5 1331.0,580.3 1333.0,578.0 1335.3,576.9 1337.6,576.5 1339.3,578.1 1340.9,579.0 1342.6,580.3 1344.3,579.1 1346.0,577.3 1347.7,576.5 1349.6,577.8 1351.5,579.3 1353.3,580.0 1355.2,580.9 1356.9,580.2 1358.6,578.5 1360.2,577.0 1361.9,576.6 1363.6,575.2 1365.3,574.0 1367.4,575.1 1369.5,577.0 1371.6,577.8 1373.7,575.9 1375.8,572.5 1377.9,570.2 1379.7,570.1 1381.5,570.7 1383.2,570.4 1385.0,570.3 1386.8,570.2 1389.3,566.4 1391.2,566.4 1393.1,566.7 1395.0,565.8 1396.9,566.4 1399.4,570.2 1401.1,570.0 1402.7,570.8 1404.4,570.2 1405.7,579.0 1407.6,579.7 1409.5,580.5 1411.4,580.3 1413.3,580.9 1415.0,582.5 1416.6,585.3 1418.3,586.6 1420.2,588.8 1422.1,591.6 1424.2,591.7 1426.3,592.1 1428.4,592.9 1430.9,599.8 1432.8,597.0 1434.7,595.4 1436.6,595.3 1438.5,596.1 1440.2,598.4 1441.9,601.2 1443.6,603.0 1445.5,602.2 1447.3,600.2 1449.2,598.6 1451.1,598.0 1452.4,605.5 1454.3,605.8 1456.2,606.2 1458.1,606.1 1460.0,606.8 1462.5,610.6 1464.4,610.1 1466.2,610.1 1468.1,610.8 1470.0,610.6 1471.9,607.2 1473.8,604.9 1475.4,605.3 1477.0,604.5 1478.6,605.4 1480.2,604.9 1481.4,609.3 1483.3,609.9 1485.2,609.1 1487.1,609.1 1489.0,609.3 1490.3,613.7 1492.1,612.8 1493.8,612.0 1495.6,611.6 1497.3,610.6 1499.1,610.6 1500.8,610.1 1502.4,609.1 1504.1,607.4 1505.8,608.3 1507.5,609.5 1509.2,610.6 1510.4,615.6 1512.3,614.1 1514.2,612.9 1516.1,612.2 1518.0,610.6 1519.9,610.5 1521.8,610.5 1523.7,611.1 1525.6,610.6 1527.5,612.3 1529.4,613.7 1531.1,614.8 1532.7,615.6 1534.4,615.6 1536.9,620.7 1538.6,620.6 1540.3,621.1 1542.0,621.9 1543.7,621.1 1545.3,619.5 1547.0,617.5 1548.7,618.7 1550.4,621.7 1552.1,623.2 1553.8,621.6 1555.4,619.8 1557.1,617.5 1559.0,624.2 1560.9,630.8 1562.7,627.5 1564.4,625.2 1566.0,625.0 1567.6,625.0 1569.2,625.0 1570.8,625.9 1572.4,625.7 1574.1,624.9 1575.7,624.9 1577.3,625.2 1578.9,625.0 1580.5,624.9 1582.1,625.2 1583.6,628.9 1585.3,628.9 1586.9,629.1 1588.6,629.9 1590.3,629.2 1592.0,628.8 1593.6,630.0 1595.3,629.6 1596.8,633.3 1599.0,624.4 1600.6,623.9 1602.2,624.6 1603.9,624.7 1605.5,625.1 1607.1,625.2 1608.6,629.6 1610.4,629.6 1612.1,630.2 1613.9,629.7 1615.6,630.0 1617.4,630.3 1618.9,633.3 1620.7,633.2 1622.4,632.8 1624.2,632.0 1625.9,632.3 1627.7,631.8 1629.5,632.3 1631.4,633.7 1633.2,635.2 1635.1,636.2 1637.3,632.6 1639.5,628.9 1641.3,629.2 1643.2,629.1 1645.1,628.6 1646.9,628.1 1648.7,629.2 1650.4,629.3 1652.2,629.6 1653.9,631.0 1655.7,631.1 1657.2,635.5 1658.9,634.9 1660.6,635.3 1662.3,636.0 1664.1,635.2 1665.8,635.5 1667.5,635.7 1669.2,635.4 1670.9,636.2 1672.7,634.9 1674.4,635.9 1676.1,634.9 1677.8,635.5 1679.2,639.2 1681.0,639.8 1682.8,640.9 1684.5,640.7 1686.3,641.6 1688.1,642.1 1689.9,641.0 1691.8,640.1 1693.6,639.3 1695.4,639.2 1697.2,637.2 1699.1,634.6 1701.0,633.1 1702.8,631.1 1705.7,623.0 1707.5,620.1 1709.4,617.8 1711.2,614.2 1713.1,611.2 1716.0,609.0 1718.2,609.1 1720.5,609.7 1723.4,617.1 1725.6,621.0 1727.8,625.9 1729.8,629.0 1731.7,632.1 1733.7,634.7 1735.9,638.9 1738.1,642.1 1740.3,644.3 1742.5,647.3 1744.5,646.7 1746.4,645.9 1748.4,645.8 1750.2,646.1 1752.0,647.9 1753.7,648.6 1755.5,648.4 1757.3,649.5 1759.1,649.0 1760.9,649.7 1762.8,650.5 1764.6,650.2 1766.3,649.7 1767.9,649.0 1769.6,648.8 1771.2,648.5 1772.9,648.0 1774.6,648.1 1776.2,647.9 1777.9,647.3 1780.8,650.2 1782.6,649.9 1784.3,648.6 1786.1,648.3 1787.8,648.0 1789.6,647.3 1791.6,648.2 1793.5,649.6 1795.5,650.2 1798.5,654.6 1800.2,654.6 1802.0,654.3 1803.7,654.9 1805.4,655.0 1807.2,654.4 1808.9,654.6 1810.7,654.9 1812.4,654.9 1814.1,654.1 1815.9,655.1 1817.6,654.6 1820.6,657.6 1822.8,656.6 1825.0,655.4 1826.8,655.9 1828.7,656.7 1830.5,656.7 1832.4,658.1 1834.2,658.3" stroke="#0a68e0" stroke-width="5.0"/>
<polyline points="187.4,419.9 189.7,423.9 192.0,428.7 193.7,426.7 195.4,424.3 197.2,423.6 198.9,421.1 201.0,420.2 203.1,418.7 205.2,417.4 207.1,418.2 209.0,419.5 210.9,421.1 213.1,419.7 215.3,417.4 217.9,408.5 219.7,408.9 221.5,408.2 223.3,408.8 225.1,409.0 226.9,408.6 228.7,408.5 230.5,408.5 232.3,405.4 234.0,403.1 235.8,399.5 237.5,397.0 239.3,393.4 240.9,393.9 242.6,393.4 244.2,393.5 245.8,392.9 247.4,393.8 249.1,392.8 250.7,393.4 252.4,390.6 254.0,388.3 255.7,385.8 257.8,387.8 259.9,388.2 262.0,389.6 264.1,386.9 266.2,383.5 268.3,380.8 270.0,379.3 271.7,378.8 273.4,377.0 275.2,376.4 277.0,377.4 278.8,376.6 280.6,376.5 282.4,376.4 284.2,377.6 286.0,377.0 287.9,374.8 289.8,371.3 291.7,370.1 293.6,366.9 295.7,368.0 297.8,369.6 299.9,370.7 301.5,368.4 303.1,366.7 304.7,364.6 306.4,362.5 308.0,360.1 309.6,359.2 311.2,356.8 312.8,356.3 314.5,357.0 316.1,355.6 317.8,355.2 319.4,355.8 321.0,354.7 322.7,354.7 324.3,354.3 326.0,354.9 327.6,354.3 328.9,346.7 330.6,345.7 332.3,342.9 334.1,340.9 335.8,339.5 337.5,338.6 339.2,335.7 340.9,334.3 342.6,332.6 344.4,330.7 346.1,330.1 347.8,327.8 349.4,327.3 351.1,326.1 352.7,324.8 354.4,323.2 356.0,322.1 359.2,329.0 360.9,328.7 362.6,329.8 364.2,329.1 365.9,329.9 367.6,330.0 369.3,329.7 371.4,329.5 373.5,328.5 375.6,328.4 377.5,325.2 379.4,320.8 381.3,322.9 383.2,323.9 385.1,325.6 387.0,326.5 388.9,326.2 390.8,324.0 392.6,323.8 394.5,322.7 396.2,320.1 397.9,316.4 399.6,313.9 401.5,314.8 403.4,315.0 405.2,315.2 407.1,315.1 410.0,311.2 411.9,310.5 413.8,309.2 415.7,307.7 417.6,306.2 419.4,306.7 421.1,306.2 422.9,305.5 424.6,306.3 426.4,306.2 428.9,297.4 430.8,297.6 432.7,296.2 434.6,296.8 436.5,296.1 438.4,292.3 440.3,289.8 442.4,289.4 444.5,288.2 446.6,287.3 448.4,287.4 450.1,286.4 451.9,287.2 453.6,285.7 455.4,286.0 458.0,282.2 459.7,281.9 461.3,280.4 463.0,279.7 464.7,281.4 466.3,282.8 468.0,283.5 469.9,280.1 471.8,277.2 473.1,280.9 474.9,280.7 476.7,280.3 478.5,280.2 480.3,280.5 482.1,280.5 483.9,280.7 485.7,280.3 487.6,277.8 489.5,275.9 491.6,275.0 493.7,274.2 495.8,273.4 497.5,272.2 499.2,271.5 500.9,270.9 503.0,272.2 505.1,272.3 507.2,272.7 509.0,269.6 510.9,267.1 512.6,267.5 514.3,267.6 516.0,268.3 517.9,265.0 519.8,260.8 521.7,261.0 523.6,261.8 525.5,261.9 527.4,262.0 529.2,258.3 531.1,255.7 532.8,255.9 534.5,255.8 536.2,255.2 537.8,255.0 539.5,254.5 541.2,254.4 544.4,248.8 547.5,251.9 549.3,251.2 551.1,251.2 552.8,250.5 554.6,251.6 556.4,250.7 558.0,250.6 559.6,250.2 561.2,249.2 562.9,248.6 564.5,248.4 566.1,246.9 567.7,246.9 569.8,245.4 571.9,243.7 574.0,241.8 575.7,243.0 577.4,244.6 579.1,246.2 580.8,247.6 582.4,247.7 584.1,248.8 586.0,248.2 587.9,248.8 589.8,247.7 591.7,247.5 594.2,241.8 596.3,242.2 598.4,241.7 600.5,241.8 602.4,239.5 604.3,238.0 606.2,238.1 608.1,237.5 610.0,237.7 611.9,237.4 613.6,235.3 615.2,235.1 616.9,233.0 618.8,233.1 620.7,232.4 622.6,232.6 624.5,233.0 626.4,230.4 628.3,226.7 630.4,225.8 632.5,225.6 634.6,225.4 637.1,216.6 638.8,214.0 640.5,212.7 642.2,210.3 645.0,194.0 646.9,191.5 648.8,187.7 650.7,186.4 652.6,185.1 654.3,185.0 656.0,185.7 657.7,186.4 658.9,192.7 660.8,194.6 662.7,197.8 665.2,206.6 667.8,212.9 669.5,213.4 671.1,214.8 672.8,215.4 674.7,216.6 676.6,217.3 678.2,217.8 679.9,217.4 681.5,217.6 683.2,217.3 684.8,217.8 686.4,216.7 688.1,217.8 689.7,217.1 691.4,217.8 693.0,217.3 694.9,218.4 696.8,219.8 698.7,220.2 700.6,221.3 702.5,223.0 704.4,219.3 706.2,217.2 708.1,213.5 710.0,216.6 711.9,220.5 713.6,220.5 715.3,220.1 717.0,221.2 718.6,221.1 720.3,220.3 722.0,220.5 723.9,213.5 725.6,214.9 727.4,214.9 729.1,216.9 730.9,217.3 733.0,216.2 735.1,214.9 737.2,213.5 739.3,211.6 741.4,209.8 743.5,207.2 745.4,206.9 747.2,207.4 749.1,207.7 751.0,207.2 753.6,203.4 755.2,204.0 756.8,203.6 758.4,203.5 760.1,204.1 761.7,202.8 763.3,203.4 764.9,203.4 767.4,200.3 769.1,200.5 770.8,200.1 772.5,201.0 774.1,201.0 775.8,201.5 777.5,200.9 778.8,203.4 780.5,203.4 782.2,203.9 783.8,203.6 785.5,203.7 787.2,203.4 788.9,203.2 790.6,203.7 792.3,203.1 794.0,203.5 795.6,203.3 797.3,203.8 799.0,203.4 800.9,206.9 802.8,211.0 804.5,208.9 806.1,205.8 807.8,203.4 809.7,205.0 811.6,207.9 813.3,210.4 815.0,212.0 816.7,213.5 818.4,211.8 820.0,209.5 821.7,207.9 823.4,208.6 825.1,209.3 826.8,211.0 828.5,211.5 830.1,212.2 831.8,213.5 833.7,210.1 835.6,207.9 837.3,207.0 838.9,206.6 840.6,206.6 842.3,204.9 844.0,202.8 845.7,200.9 847.8,201.7 849.9,203.7 852.0,204.1 853.7,202.5 855.3,201.0 857.0,200.3 858.7,199.2 860.4,198.9 862.1,197.8 863.8,196.1 865.4,195.2 867.1,194.6 869.7,204.1 871.5,203.4 873.2,203.6 875.0,204.0 877.2,198.3 879.5,193.9 882.6,204.6 884.5,200.9 886.4,197.7 888.5,200.1 890.6,203.0 892.7,204.6 894.4,201.9 896.1,200.6 897.8,197.7 899.5,198.8 901.1,199.1 902.8,198.9 904.5,201.9 906.2,203.8 907.9,207.1 910.0,204.7 912.1,203.4 914.2,201.5 916.1,203.7 918.0,206.7 919.8,207.9 921.7,210.9 923.6,207.8 925.5,205.7 927.4,203.0 929.3,200.2 931.1,201.3 932.8,203.3 934.6,203.8 936.3,204.8 938.1,206.5 940.2,207.5 942.3,209.8 944.4,210.9 946.2,209.5 948.0,207.9 949.7,206.6 951.5,205.2 953.3,204.0 955.4,202.7 957.5,201.4 959.6,200.8 961.3,203.7 962.9,205.8 964.6,208.4 966.4,206.0 968.2,204.7 969.9,202.6 971.7,199.4 973.5,197.7 975.2,197.8 977.0,198.0 978.7,197.6 980.5,197.2 982.2,197.3 983.9,197.6 985.7,197.9 987.4,197.7 989.9,203.3 992.0,204.8 994.1,206.8 996.2,208.4 998.3,206.3 1000.4,202.7 1002.5,200.2 1004.4,202.2 1006.3,204.0 1008.0,204.5 1009.7,204.0 1011.3,204.5 1013.0,204.7 1014.7,204.3 1016.4,203.4 1018.1,204.5 1019.8,204.6 1021.5,204.1 1023.1,203.7 1024.8,204.0 1026.5,204.0 1028.6,207.0 1030.7,210.4 1032.8,214.1 1035.3,209.0 1037.4,209.0 1039.5,207.4 1041.6,207.1 1043.3,209.6 1045.0,213.9 1046.7,216.6 1048.3,216.0 1049.9,216.0 1051.6,217.2 1053.2,217.1 1054.8,217.0 1056.4,217.2 1058.1,217.3 1059.7,215.9 1061.3,216.6 1062.9,216.0 1064.5,216.8 1066.2,216.6 1067.8,216.9 1069.4,216.6 1071.1,215.0 1072.7,213.1 1074.4,212.2 1076.3,212.6 1078.2,213.4 1080.3,216.3 1082.4,219.2 1084.5,222.9 1086.2,220.2 1087.9,218.2 1089.6,216.6 1091.3,216.2 1093.0,215.5 1094.7,215.7 1096.3,215.0 1098.0,214.7 1099.7,214.1 1101.7,213.9 1103.7,213.8 1105.6,213.6 1107.6,213.3 1109.5,211.7 1111.4,208.9 1113.2,211.4 1115.1,213.3 1117.0,215.5 1118.9,217.8 1120.6,215.8 1122.3,214.1 1124.0,212.7 1125.9,212.3 1127.8,212.4 1129.6,212.9 1131.5,212.7 1133.4,215.8 1135.3,217.8 1137.2,217.9 1139.1,217.9 1141.0,219.4 1142.9,219.0 1144.8,222.4 1146.7,227.2 1148.6,223.1 1150.5,220.3 1152.6,220.4 1154.7,219.9 1156.8,220.3 1158.5,217.6 1160.1,215.2 1161.8,212.7 1163.9,213.7 1166.0,215.6 1168.1,216.5 1170.0,215.9 1171.9,217.2 1173.8,216.8 1175.7,216.5 1177.4,218.8 1179.1,219.6 1180.8,221.5 1182.7,224.6 1184.5,229.1 1186.4,227.9 1188.3,226.0 1190.0,226.2 1191.7,226.3 1193.4,226.6 1195.1,228.5 1196.7,230.6 1198.4,232.9 1200.3,228.4 1202.2,225.3 1203.9,227.5 1205.6,231.1 1207.3,233.5 1209.2,234.0 1211.0,233.7 1212.9,233.4 1214.8,233.5 1216.1,228.5 1217.8,227.3 1219.4,227.8 1221.1,226.6 1222.9,227.7 1224.7,227.7 1226.4,229.0 1228.2,229.3 1230.0,229.7 1231.2,233.5 1232.9,231.7 1234.6,229.9 1236.3,229.1 1238.0,228.9 1239.7,227.9 1241.3,227.8 1243.0,227.2 1244.7,226.9 1246.4,226.6 1248.3,231.1 1250.2,236.7 1252.1,232.9 1253.9,230.4 1255.6,231.1 1257.3,231.4 1259.0,230.8 1260.6,231.3 1262.3,232.1 1264.0,232.3 1265.3,237.3 1267.4,236.1 1269.5,233.9 1271.6,231.6 1273.3,233.5 1275.0,233.9 1276.7,235.4 1278.4,236.8 1280.0,238.1 1281.7,238.6 1283.8,240.3 1285.9,241.7 1288.0,243.0 1289.9,241.3 1291.8,238.5 1293.7,237.8 1295.6,235.4 1297.3,238.1 1298.9,242.5 1300.6,245.5 1302.3,244.7 1304.0,243.1 1305.7,241.7 1307.8,240.0 1309.9,239.6 1312.0,238.6 1313.6,238.9 1315.2,239.2 1316.8,239.0 1318.5,238.3 1320.1,239.4 1321.7,238.4 1323.3,239.2 1325.2,240.9 1327.1,243.0 1330.0,242.8 1332.2,244.5 1334.4,246.0 1337.6,238.4 1339.7,240.6 1341.8,241.9 1343.9,243.4 1345.6,240.3 1347.2,238.4 1348.9,235.2 1351.0,236.4 1353.1,236.8 1355.2,237.8 1356.9,235.7 1358.6,234.2 1360.3,232.7 1362.0,231.7 1363.6,230.3 1365.3,228.3 1367.1,228.7 1368.9,228.8 1370.6,229.1 1372.4,228.2 1374.2,228.9 1375.4,237.1 1377.3,236.6 1379.2,237.6 1381.1,237.6 1383.0,237.1 1384.8,234.8 1386.5,232.5 1388.3,229.2 1390.0,227.6 1391.8,225.1 1393.7,228.3 1395.6,232.1 1397.3,232.9 1399.0,233.3 1400.7,233.3 1402.4,235.8 1404.0,236.9 1405.7,239.0 1407.6,239.2 1409.5,239.0 1410.8,249.1 1412.9,247.4 1415.0,246.6 1417.1,245.3 1418.3,256.7 1420.4,257.1 1422.5,257.9 1424.6,258.6 1426.5,261.5 1428.4,264.3 1430.3,261.3 1432.2,257.3 1434.1,262.2 1436.0,268.0 1437.7,265.6 1439.3,263.6 1441.0,260.5 1442.9,261.6 1444.8,262.5 1446.7,264.8 1448.6,265.5 1450.7,266.6 1452.8,267.8 1454.9,268.0 1456.8,269.1 1458.7,271.0 1460.6,272.4 1462.5,274.4 1464.2,273.5 1465.8,272.1 1467.5,271.8 1469.4,274.8 1471.3,278.1 1473.0,276.0 1474.7,272.9 1476.4,270.6 1478.5,272.1 1480.6,273.6 1482.7,274.4 1484.4,274.1 1486.0,274.6 1487.7,274.4 1489.4,276.2 1491.1,276.9 1492.8,278.1 1494.9,277.1 1497.0,274.6 1499.1,273.1 1500.8,274.5 1502.4,275.2 1504.1,276.9 1506.0,278.9 1507.9,281.9 1510.0,279.8 1512.1,278.7 1514.2,276.9 1515.9,277.7 1517.6,279.7 1519.3,280.7 1521.2,281.6 1523.0,283.5 1524.9,284.7 1526.8,285.7 1528.7,285.9 1530.6,285.5 1532.5,284.7 1534.4,284.4 1536.3,286.7 1538.2,288.2 1539.9,286.0 1541.5,285.2 1543.2,283.2 1545.8,290.8 1548.3,297.1 1550.2,293.8 1552.1,290.8 1554.2,292.3 1556.3,294.0 1558.4,295.8 1560.0,293.6 1561.8,293.6 1563.5,294.0 1565.3,294.2 1567.0,293.4 1568.8,293.6 1571.8,297.2 1573.6,296.8 1575.4,297.1 1577.3,297.8 1579.1,298.0 1582.1,292.8 1583.9,295.1 1585.8,298.7 1587.8,296.2 1589.7,293.1 1591.7,289.9 1593.6,291.0 1595.5,290.7 1597.4,292.1 1599.3,293.5 1601.2,293.6 1604.2,297.2 1606.0,296.7 1607.8,297.6 1609.7,297.3 1611.5,297.2 1613.0,300.2 1614.7,300.1 1616.4,299.4 1618.2,299.0 1619.9,298.8 1621.6,297.0 1623.3,297.2 1625.5,299.8 1627.7,303.1 1629.5,301.7 1631.2,301.5 1633.0,300.3 1634.7,299.6 1636.5,299.4 1638.5,300.8 1640.4,302.3 1642.4,304.6 1644.4,304.5 1646.3,303.5 1648.3,303.1 1650.0,302.8 1651.7,303.4 1653.4,303.3 1655.2,303.8 1656.9,303.8 1658.6,303.9 1660.8,307.0 1663.0,309.0 1664.8,309.8 1666.6,311.3 1668.3,312.0 1670.1,313.5 1671.9,314.2 1673.9,314.4 1675.8,315.0 1677.8,315.6 1679.4,315.5 1681.0,316.1 1682.7,316.7 1684.3,316.1 1685.9,316.6 1687.5,316.6 1689.1,317.2 1690.8,317.2 1692.4,317.5 1694.0,317.1 1696.9,314.2 1698.7,313.3 1700.4,310.7 1702.2,309.3 1703.9,308.4 1705.7,306.8 1708.7,295.8 1710.5,294.4 1712.3,293.8 1714.2,291.9 1716.0,290.6 1717.7,292.1 1719.5,294.3 1721.2,296.5 1723.1,301.0 1724.9,305.3 1727.1,306.0 1729.3,306.8 1732.2,318.6 1734.0,319.3 1735.9,319.2 1737.8,320.1 1739.6,320.8 1741.6,322.7 1743.5,325.4 1745.5,328.1 1747.3,328.0 1749.2,327.1 1751.0,326.1 1752.8,325.9 1754.7,327.3 1756.5,328.3 1758.3,329.8 1760.2,331.8 1762.2,330.2 1764.1,328.9 1766.1,328.1 1768.1,327.7 1770.0,326.8 1772.0,325.2 1773.7,326.2 1775.4,326.2 1777.2,326.6 1778.9,327.5 1780.6,327.2 1782.3,328.1 1785.2,331.8 1787.4,330.7 1789.6,328.9 1791.4,328.3 1793.3,328.4 1795.2,328.3 1797.0,328.9 1798.6,329.7 1800.3,329.8 1801.9,330.1 1803.5,329.7 1805.2,330.5 1806.8,331.0 1808.4,331.4 1810.1,330.8 1811.7,331.8 1813.2,337.7 1815.0,339.0 1816.9,340.4 1818.8,341.3 1820.6,342.1 1822.8,340.0 1825.0,339.2 1827.0,341.3 1828.9,342.5 1830.9,343.6 1832.6,342.0 1834.2,340.7" stroke="#00a862" stroke-width="5.0"/>
</g>
<g font-family="'Liberation Serif', serif" font-weight="bold" font-size="58" text-anchor="middle" fill="#000">
<text x="185.4" y="1327.5">400</text>
<text x="420.3" y="1327.5">600</text>
<text x="656.5" y="1327.5">800</text>
<text x="891.0" y="1327.5">1000</text>
<text x="1126.0" y="1327.5">1200</text>
<text x="1361.4" y="1327.5">1400</text>
<text x="1597.6" y="1327.5">1600</text>
<text x="1831.4" y="1327.5">1800</text>
</g>
<g font-family="'Liberation Serif', serif" fill="#000">
<text y="1433" font-size="80.5"><tspan x="656.2">Raman shift (cm</tspan><tspan x="1191" y="1399.2" font-size="54">-1</tspan><tspan x="1233.2" y="1433">)</tspan></text>
<text transform="translate(75,924) rotate(-90)" font-size="81">Intensity(a.u.)</text>
<text font-size="63" transform="translate(206.4,297) scale(0.935,1)">10</text>
<text font-size="63" y="297"><tspan x="264.1" y="271.5" font-size="43">-5</tspan><tspan x="318.7" y="297">M</tspan></text>
<text font-size="63" y="537"><tspan x="203.2">10</tspan><tspan x="264.3" y="510.5" font-size="43">-4</tspan><tspan x="309.5" y="537">M</tspan></text>
<text font-size="63" y="795"><tspan x="206.1">10</tspan><tspan x="266.9" y="769.3" font-size="43">-3</tspan><tspan x="312.4" y="795">M</tspan></text>
<text font-size="63" y="1088.7"><tspan x="199.9">10</tspan><tspan x="261.1" y="1062.7" font-size="43">-2</tspan><tspan x="306.3" y="1088.7">M</tspan></text>
</g>
</svg>
</body></html>
